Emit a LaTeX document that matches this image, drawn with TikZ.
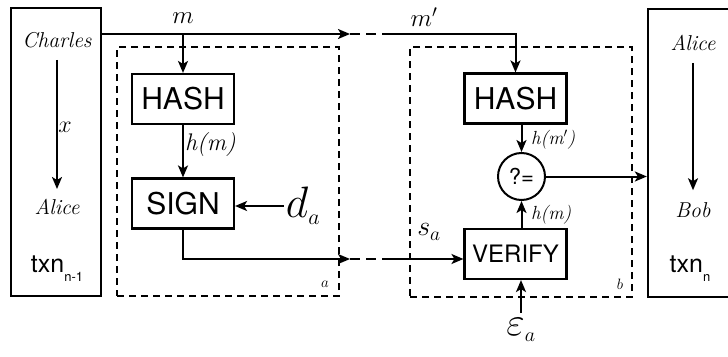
\RequirePackage{fix-cm}
\documentclass[tikz,border=0pt]{standalone}
\usepackage{fontspec}
\newfontfamily\heros{TeX Gyre Heros}
\usetikzlibrary{arrows.meta,calc}

% font sizes used by the labels
\newcommand{\fsz}[1]{\fontsize{#1}{#1}\selectfont}

\tikzset{
  party/.style={draw, line width=2.3pt, inner sep=0pt},
  stage/.style={draw, line width=1.7pt, dash pattern=on 7pt off 5pt, inner sep=0pt},
  fn/.style={draw, line width=2.1pt, minimum width=102pt, minimum height=50pt,
             inner sep=0pt, font=\heros\fsz{30}},
  cmp/.style={draw, circle, line width=2pt, minimum size=47pt, inner sep=0pt,
              font=\heros\fsz{22}},
  who/.style={inner sep=2pt, font=\itshape\fsz{21.5}},
  txn/.style={inner sep=2pt, font=\heros\fsz{25}},
  lbl/.style={inner sep=2pt},
  wire/.style={line width=2pt},
  flow/.style={wire, -{Stealth[length=12pt,width=10pt,inset=3pt]}},
  gapline/.style={wire, dash pattern=on 10pt off 6pt},
}

\begin{document}
\begin{tikzpicture}[x=1pt,y=-1pt]
\useasboundingbox (0,0) rectangle (728,356);

% the two transactions
\node[party, minimum width=90pt, minimum height=288pt] (lbox) at (56,152) {};
\node[party, minimum width=100pt, minimum height=288pt] (rbox) at (698,153) {};

% signing and verifying stages
\node[stage, minimum width=222pt, minimum height=249pt] (boxa) at (228,171.5) {};
\node[stage, minimum width=222pt, minimum height=250pt] (boxb) at (521,172) {};

% left transaction
\node[who] (charles) at (57,40) {Charles};
\node[who] (alice1) at (57,207) {Alice};
\node[txn] (txn1) at (57,269) {txn\raisebox{-9pt}{\fsz{13}n-1}};
\node[lbl] (xlab) at (65,127) {\fsz{24}$x$};

% right transaction
\node[who] (alice2) at (693,43) {Alice};
\node[who] (bob) at (693,210) {Bob};
\node[txn] (txn2) at (690,269) {txn\raisebox{-9pt}{\fsz{13}n}};

% functional blocks
\node[fn] (hash1) at (183,99) {HASH};
\node[fn] (sign) at (183,203.5) {SIGN};
\node[fn] (hash2) at (515.5,98.5) {HASH};
\node[fn, font=\heros\fsz{24}] (verify) at (515.5,254) {VERIFY};
\node[cmp] (eq) at (521.5,176.5) {?=};

% key inputs
\node[lbl] (da) at (303,206) {\fsz{44}$d_{\scriptscriptstyle a}$};
\node[lbl] (ea) at (521,330) {\fsz{40}$\varepsilon_{\scriptscriptstyle a}$};
\node[lbl] (sa) at (429,232) {\fsz{28}$s_{\scriptstyle a}$};

% stage tags
\node[lbl] (taga) at (325,284) {\fsz{15}$a$};
\node[lbl] (tagb) at (620,284) {\fsz{15}$b$};

% message labels
\node[lbl] (mlab) at (183,18) {\fsz{25}$m$};
\node[lbl] (mplab) at (424,17) {\fsz{25}$m'$};
\node[lbl, anchor=west] (h1lab) at (183,145) {\itshape\fsz{24}h(m)};
\node[lbl, anchor=west] (h2lab) at (529,140) {\itshape\fsz{19}h(m$'$)};
\node[lbl, anchor=west] (h3lab) at (529,215) {\itshape\fsz{19}h(m)};

% break points of the transmitted lines
\coordinate (gapA) at (350,34);
\coordinate (gapB) at (385,34);
\coordinate (gapC) at (350,259);
\coordinate (gapD) at (385,259);
\coordinate (epsTop) at (521,313);

% transfers inside the transactions
\draw[flow, shorten <=10pt, shorten >=8pt] (charles) -- (alice1);
\draw[flow, shorten <=10pt, shorten >=10pt] (alice2) -- (bob);

% message path
\draw[flow] (lbox.east |- gapA) -- (gapA);
\draw[gapline] (gapA) -- (gapB);
\draw[flow] (gapB) -| (hash2.north);
\draw[flow] (hash1.north |- gapA) -- (hash1.north);
\draw[flow] (hash1) -- (sign);
\draw[flow] (da) -- (sign.east |- da.west);

% signature path
\draw[flow] (sign.south) |- (gapC);
\draw[gapline] (gapC) -- (gapD);
\draw[flow] (gapD) -- (gapD -| verify.west);

% comparison
\draw[flow] (hash2.south -| eq) -- (eq.north);
\draw[flow] (verify.north -| eq) -- (eq.south);
\draw[flow] (eq.east) -- (rbox.west |- eq.east);
\draw[flow] (epsTop) -- (verify.south -| epsTop);
\end{tikzpicture}
\end{document}
